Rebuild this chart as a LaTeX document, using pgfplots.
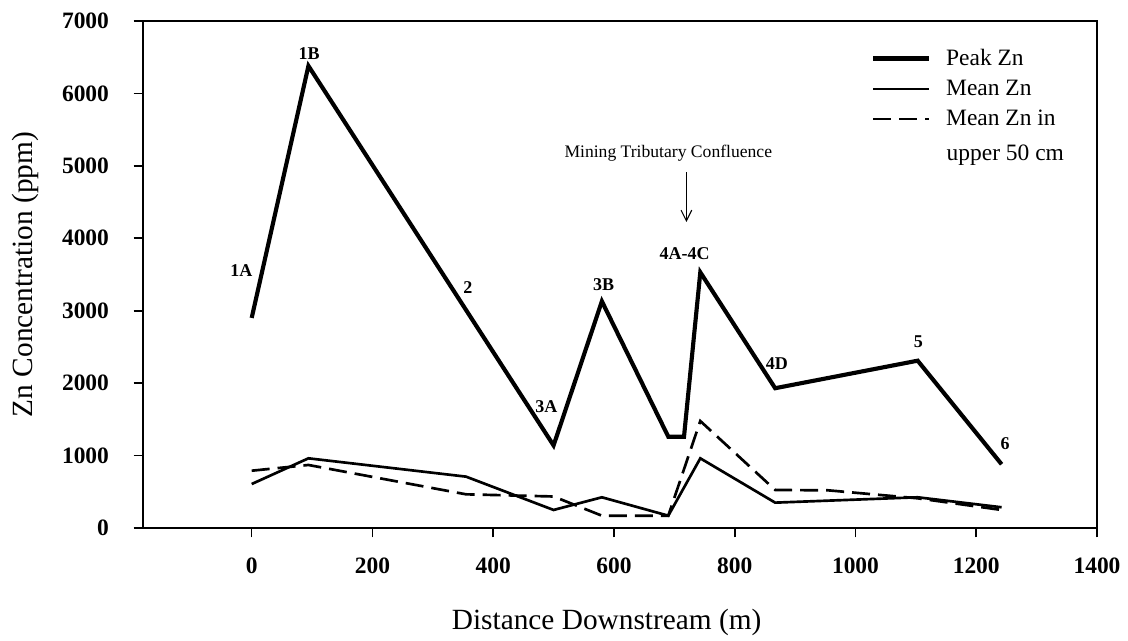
\documentclass[border=0pt]{standalone}
\usepackage{fontspec}
\setmainfont{Liberation Serif}
\usepackage{pgfplots}
\pgfplotsset{compat=1.18}
\usetikzlibrary{arrows.meta,calc}
\begin{document}
\begin{tikzpicture}
\useasboundingbox (-107.25pt,-84.75pt) rectangle (738.75pt,396pt);
\begin{axis}[
  scale only axis, width=715.5pt, height=380.25pt,
  xmin=-180, xmax=1400, ymin=0, ymax=7000,
  xtick={0,200,...,1400}, ytick={0,1000,...,7000},
  tick align=outside, xtick pos=bottom, ytick pos=left,
  major tick length=7pt,
  scaled ticks=false,
  /pgf/number format/1000 sep={},
  /pgf/number format/assume math mode=true,
  ticklabel style={font=\bfseries\fontsize{17.6}{20}\selectfont},
  xticklabel style={anchor=base, yshift=-27pt},
  yticklabel style={anchor=east, xshift=-15pt},
  axis line style={line width=0.8pt},
  tick style={line width=1.2pt, black},
  clip=false,
  xlabel={Distance Downstream (m)},
  ylabel={Zn Concentration (ppm)},
  label style={font=\fontsize{22}{26}\selectfont},
  xlabel style={at={($(rel axis cs:0.486,0)+(0,-76.5pt)$)}, anchor=base},
  ylabel style={at={($(rel axis cs:0,0.5)+(-82.5pt,0)$)}, anchor=base, rotate=0},
  legend style={at={(rel axis cs:0.759,0.955)}, anchor=north west, draw=none, fill=none,
    font=\fontsize{17.6}{20}\selectfont, row sep=5.5pt, column sep=9pt},
  legend cell align=left,
  legend image code/.code={\draw[#1] (0pt,0pt) -- (42pt,0pt);},
]
\addplot[line width=3.1pt, black] coordinates {
 (0,2900) (94,6380) (355,3010) (500,1140) (580,3130) (690,1260) (716,1260)
 (743,3530) (867,1930) (1103,2310) (1242,880)};
\addlegendentry{Peak Zn}
\addplot[line width=2pt, black] coordinates {
 (0,607) (94,962) (355,709) (500,249) (580,424) (690,170) (743,962)
 (867,350) (1103,424) (1242,286)};
\addlegendentry{Mean Zn}
\addplot[line width=2pt, black, dash pattern=on 13.5pt off 6pt] coordinates {
 (0,791) (94,870) (355,465) (500,435) (580,170) (690,170) (743,1477)
 (867,525) (955,520) (1103,410) (1242,249)};
\addlegendentry{Mean Zn in}
\draw[line width=1.6pt] (rel axis cs:0,1) -- (rel axis cs:0,0) -- (rel axis cs:1,0);
\node[anchor=west, font=\fontsize{17.6}{20}\selectfont] at (rel axis cs:0.8375,0.7357) {upper 50 cm};
\begin{scope}[every node/.style={font=\bfseries\fontsize{13.5}{16}\selectfont}]
\node at (axis cs:-17,3548) {1A};
\node at (axis cs:95,6544) {1B};
\node at (axis cs:358,3313) {2};
\node at (axis cs:488,1670) {3A};
\node at (axis cs:583,3355) {3B};
\node at (axis cs:717,3783) {4A-4C};
\node at (axis cs:870,2264) {4D};
\node at (axis cs:1104,2568) {5};
\node at (axis cs:1248,1160) {6};
\end{scope}
\node[font=\fontsize{13.2}{16}\selectfont] at (axis cs:690,5177) {Mining Tributary Confluence};
\draw[line width=0.8pt, -{Straight Barb[length=8pt,width=8pt]}] (axis cs:720,4915) -- (axis cs:720,4225);
\end{axis}
\end{tikzpicture}
\end{document}
